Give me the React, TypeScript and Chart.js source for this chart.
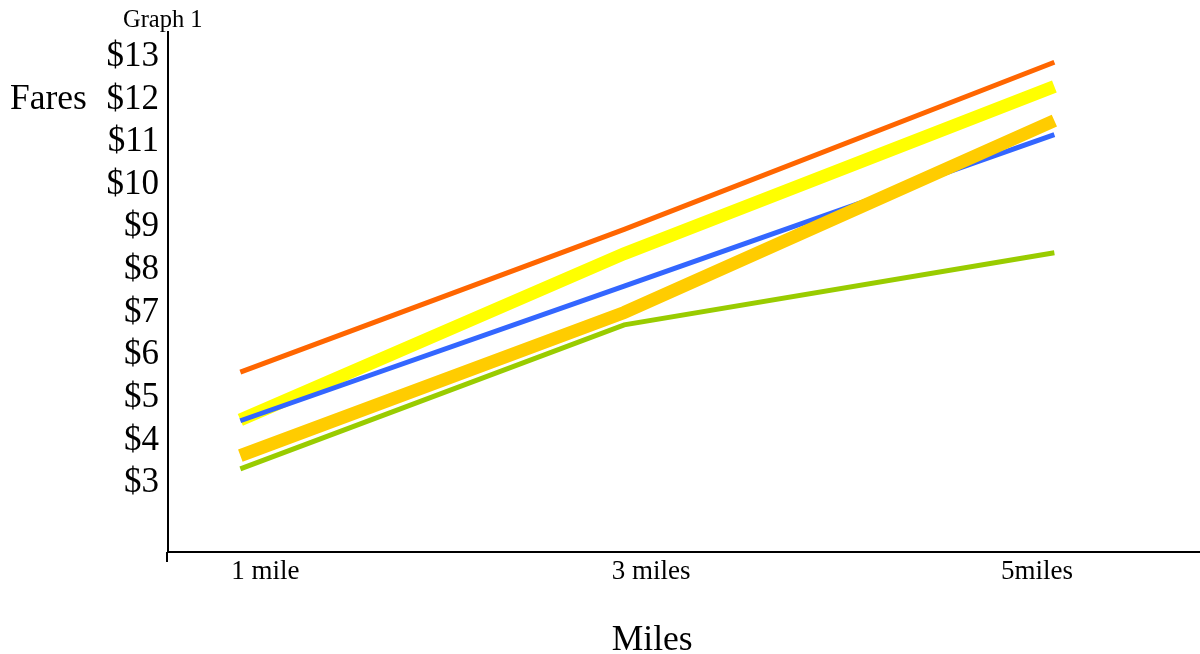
import React, { useEffect, useRef } from "react";
import { Chart, registerables } from "chart.js";
Chart.register(...registerables);

const chartTitle = "Graph 1";
const yAxisTitle = "Fares";
const xAxisTitle = "Miles";
const milesTicks = [1, 3, 5];
const milesLabels = ["1 mile", "3 miles", "5miles"];
const pointMiles = [0.87, 2.86, 5.09];
const fareTicks = [3, 4, 5, 6, 7, 8, 9, 10, 11, 12, 13];
const orangeFares = [5.6, 8.95, 12.87];
const yellowFares = [4.48, 8.38, 12.3];
const blueFares = [4.46, 7.62, 11.17];
const goldFares = [3.64, 7.0, 11.5];
const greenFares = [3.33, 6.71, 8.4];

const FONT = '"Liberation Serif", "Times New Roman", serif';

const toPoints = (vals: number[]) => vals.map((v, i) => ({ x: pointMiles[i], y: v }));

const extraText = {
  id: "extraText",
  afterDraw(chart: any) {
    const ctx = chart.ctx;
    const ys = chart.scales.y;
    const xs = chart.scales.x;
    const area = chart.chartArea;
    ctx.save();
    ctx.fillStyle = "#000";
    ctx.textAlign = "left";
    ctx.textBaseline = "middle";
    ctx.font = `35.5px ${FONT}`;
    ctx.fillText(yAxisTitle, 10, ys.getPixelForValue(12));
    ctx.textBaseline = "alphabetic";
    ctx.font = `24.5px ${FONT}`;
    ctx.fillText(chartTitle, 123, 27);
    ctx.textAlign = "center";
    ctx.font = `35.5px ${FONT}`;
    ctx.fillText(xAxisTitle, xs.getPixelForValue(3) + 1, 650);
    ctx.strokeStyle = "#000";
    ctx.lineWidth = 2;
    ctx.beginPath();
    ctx.moveTo(area.left - 1, area.bottom);
    ctx.lineTo(area.left - 1, area.bottom + 10);
    ctx.stroke();
    ctx.restore();
  },
};

export default function App() {
  const ref = useRef<HTMLCanvasElement>(null);
  useEffect(() => {
    if (!ref.current) return;
    const line = (data: number[], color: string, width: number) => ({
      data: toPoints(data),
      borderColor: color,
      backgroundColor: color,
      borderWidth: width,
      pointRadius: 0,
      tension: 0,
      borderCapStyle: "butt" as const,
      borderJoinStyle: "miter" as const,
      fill: false,
      clip: false as any,
    });
    const chart = new Chart(ref.current, {
      type: "line",
      data: {
        datasets: [
          line(goldFares, "#FFCC00", 13),
          line(blueFares, "#3366FF", 5),
          line(greenFares, "#99CC00", 5),
          line(yellowFares, "#FFFF00", 13),
          line(orangeFares, "#FF6600", 5),
        ],
      },
      options: {
        animation: false,
        responsive: false,
        devicePixelRatio: 1,
        layout: { padding: { top: 32, right: 0, bottom: 0, left: 0 } },
        plugins: { legend: { display: false }, tooltip: { enabled: false }, title: { display: false } },
        scales: {
          x: {
            type: "linear",
            min: 0.495,
            max: 5.845,
            afterBuildTicks: (s: any) => {
              s.ticks = milesTicks.map((v) => ({ value: v }));
            },
            afterFit: (s: any) => {
              s.height = 102;
            },
            ticks: {
              autoSkip: false,
              maxRotation: 0,
              padding: 4,
              color: "#000",
              font: { family: FONT, size: 27 },
              callback: (v: any) => milesLabels[milesTicks.indexOf(Number(v))] ?? "",
            },
            grid: { drawOnChartArea: false, drawTicks: false },
            border: { display: true, color: "#000", width: 2 },
          },
          y: {
            type: "linear",
            min: 1.381,
            max: 13.58,
            afterBuildTicks: (s: any) => {
              s.ticks = fareTicks.map((v) => ({ value: v }));
            },
            afterFit: (s: any) => {
              s.width = 168;
            },
            ticks: {
              autoSkip: false,
              padding: 9,
              color: "#000",
              font: { family: FONT, size: 35 },
              callback: (v: any) => "$" + v,
            },
            grid: { drawOnChartArea: false, drawTicks: false },
            border: { display: true, color: "#000", width: 2 },
          },
        },
      },
      plugins: [extraText],
    });
    return () => chart.destroy();
  }, []);
  return (
    <div style={{ position: "fixed", left: 0, top: 0, width: 1200, height: 654, background: "#fff" }}>
      <canvas ref={ref} width={1200} height={654} style={{ display: "block" }} />
    </div>
  );
}
